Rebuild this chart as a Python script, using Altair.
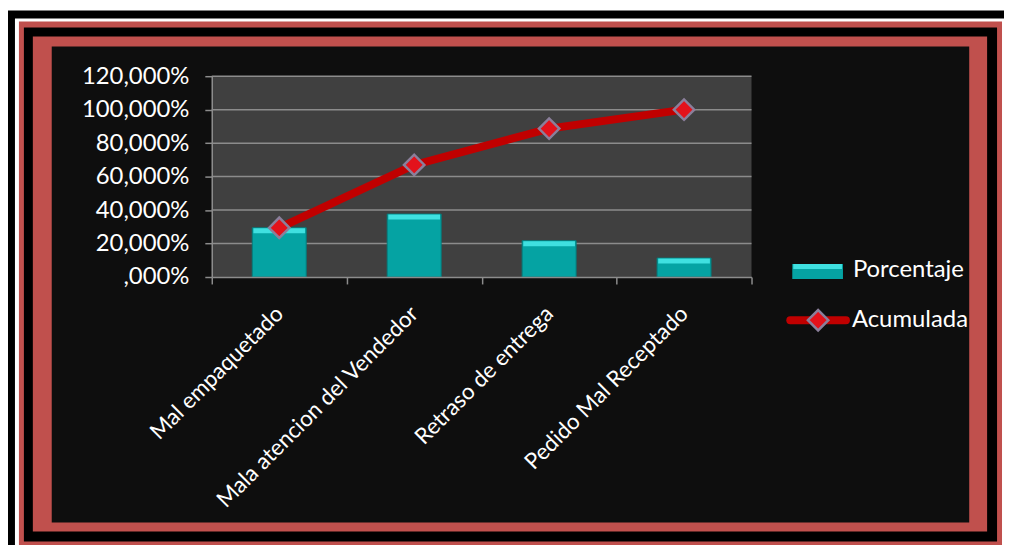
import altair as alt
import pandas as pd

categorias = ["Mal empaquetado", "Mala atencion del Vendedor", "Retraso de entrega", "Pedido Mal Receptado"]
porcentaje = [29.4, 37.6, 21.7, 11.3]
acumulada = [29.4, 67.0, 88.7, 100.0]
y_ticks = [0, 20, 40, 60, 80, 100, 120]
series = ["Porcentaje", "Acumulada"]

df = pd.DataFrame({"categoria": categorias, "porcentaje": porcentaje, "acumulada": acumulada})
grid_df = pd.DataFrame({"v": y_ticks[1:]})
one = pd.DataFrame({"k": [0]})

W, H = 543, 202
FONT = "Lato"
FS = 24

xscale = alt.Scale(domain=categorias, paddingInner=0, paddingOuter=0)
xaxis = alt.Axis(title=None, labelAngle=-45, labelAlign="right", labelBaseline="middle",
                 labelPadding=26, tickBand="extent", tickSize=7, labelLimit=500,
                 labelFontSize=22.5, labelOverlap=False, zindex=2)
yscale = alt.Scale(domain=[0, 120], nice=False, zero=True)
yaxis = alt.Axis(title=None, values=y_ticks, grid=False, tickSize=7, labelPadding=16,
                 labelExpr="(datum.value == 0 ? '' : datum.value) + ',000%'", zindex=2)


def X():
    return alt.X("categoria:N", sort=categorias, scale=xscale, axis=xaxis)


def Y(field):
    return alt.Y(f"{field}:Q", scale=yscale, axis=yaxis)


def box(x1, x2, y1, y2, color):
    return alt.Chart(one).mark_rect(color=color).encode(
        x=alt.value(x1), x2=alt.value(x2), y=alt.value(y1), y2=alt.value(y2))


frames = [
    box(-206, 799, -66, 478, "#000000"),
    box(-198, 797, -58, 476, "#ffffff"),
    box(-194, 795, -55, 473, "#c0504d"),
    box(-189, 790, -49, 468, "#000000"),
    box(-180, 780, -40, 458, "#c0504d"),
    box(-161, 762, -30, 449, "#0e0e0e"),
    box(0, W, 0, H, "#404040"),
]

grid = alt.Chart(grid_df).mark_rule(color="#8c8c8c", strokeWidth=1.5).encode(
    y=alt.Y("v:Q", scale=yscale, axis=yaxis))

bars = alt.Chart(df).mark_bar(width=alt.RelativeBandSize(0.4), color="#05a3a3",
                              stroke="#057c7c", strokeWidth=1).encode(x=X(), y=Y("porcentaje"))
bar_hi = alt.Chart(df).mark_tick(color="#3fe0e0", thickness=5, size=52, yOffset=3,
                                 opacity=1).encode(x=X(), y=Y("porcentaje"))

line = alt.Chart(df).mark_line(color="#c00000", strokeWidth=8).encode(x=X(), y=Y("acumulada"))
points = alt.Chart(df).mark_point(shape="diamond", filled=True, size=420, fill="#e3121b",
                                  stroke="#8b7f9b", strokeWidth=2.5, opacity=1).encode(
    x=X(), y=Y("acumulada"))

# legend
leg_rect = box(584, 635, 189, 204, "#05a3a3")
leg_rect_hi = box(585, 634, 189, 194, "#3fe0e0")
leg_line = alt.Chart(one).mark_rule(color="#c00000", strokeWidth=8, strokeCap="round").encode(
    x=alt.value(582), x2=alt.value(638), y=alt.value(245.5))
leg_pt = alt.Chart(one).mark_point(shape="diamond", filled=True, size=420, fill="#e3121b",
                                   stroke="#8b7f9b", strokeWidth=2.5, opacity=1).encode(
    x=alt.value(610), y=alt.value(245.5))
leg_t1 = alt.Chart(one).mark_text(align="left", baseline="alphabetic", font=FONT, fontSize=FS,
                                  color="white").encode(
    x=alt.value(645), y=alt.value(202), text=alt.value(series[0]))
leg_t2 = alt.Chart(one).mark_text(align="left", baseline="alphabetic", font=FONT, fontSize=FS,
                                  color="white").encode(
    x=alt.value(644), y=alt.value(252), text=alt.value(series[1]))

chart = alt.layer(
    *frames, grid, bars, bar_hi, line, points,
    leg_rect, leg_rect_hi, leg_line, leg_pt, leg_t1, leg_t2
).properties(
    width=W, height=H,
    autosize=alt.AutoSizeParams(type="none"),
    padding={"left": 205, "top": 67, "right": 254, "bottom": 268},
).configure(background="white").configure_view(stroke=None).configure_axis(
    labelColor="white", labelFont=FONT, labelFontSize=FS,
    domainColor="#8c8c8c", tickColor="#8c8c8c", domainWidth=1.5, tickWidth=1.5)

chart.save("out.html", embed_options={"renderer": "svg", "actions": False})
